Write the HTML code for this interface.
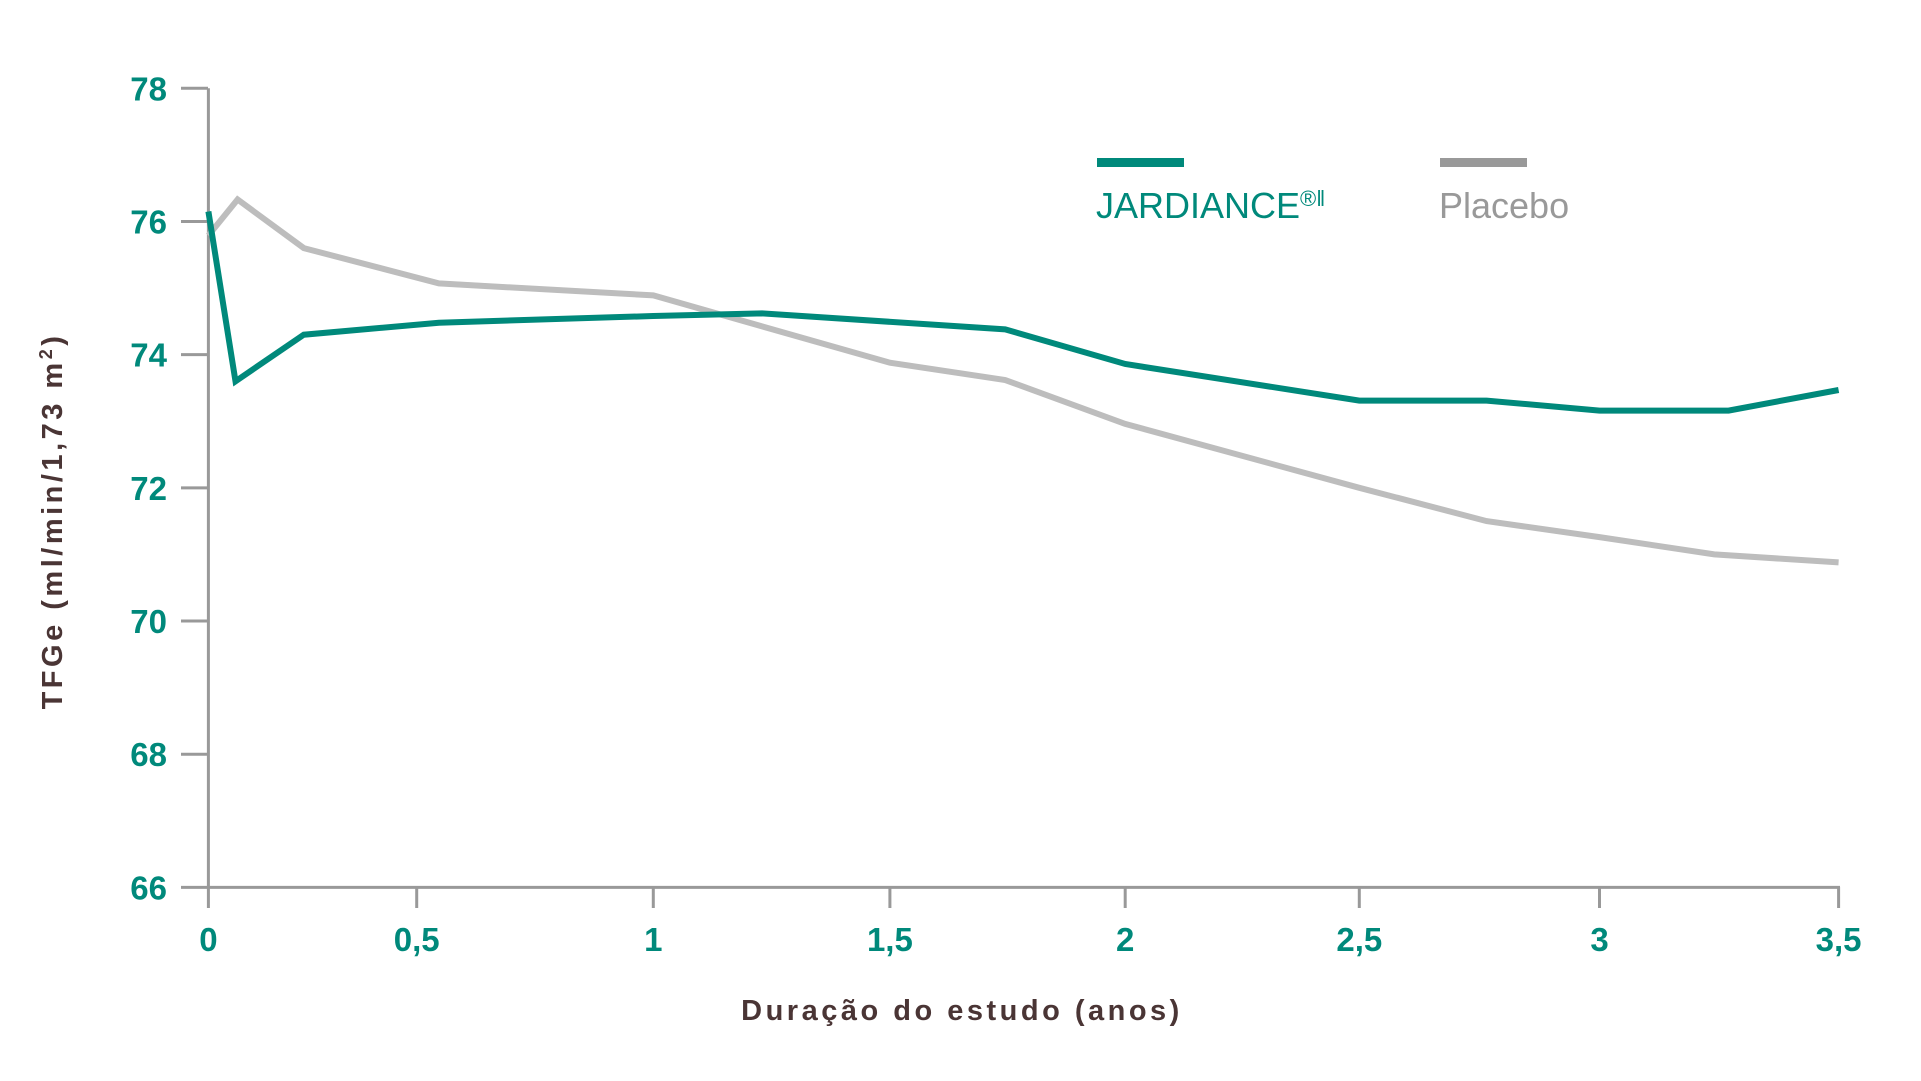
<!DOCTYPE html>
<html><head><meta charset="utf-8"><style>
html,body{margin:0;padding:0;background:#fff;}
svg{display:block;font-family:"Liberation Sans",sans-serif;}
</style></head><body>
<svg id="chart" width="1921" height="1081" viewBox="0 0 1921 1081">
<g id="axes"></g>
<g id="series"></g>
<g>
<rect x="1097" y="158" width="87" height="9" fill="#00897b"/>
<text x="1096" y="218" font-size="36" fill="#00897b">JARDIANCE<tspan font-size="22" dy="-12">®ǁ</tspan></text>
<rect x="1440" y="158" width="87" height="9" fill="#999"/>
<text x="1439" y="218" font-size="36" fill="#999">Placebo</text>
</g>
<text transform="translate(62,521) rotate(-90)" text-anchor="middle" font-size="29" font-weight="bold" letter-spacing="3.5" fill="#4a3535">TFGe (ml/min/1,73 m<tspan font-size="18" dy="-10">2</tspan><tspan dy="10">)</tspan></text>
<text x="962" y="1020" text-anchor="middle" font-size="29" font-weight="bold" letter-spacing="3.5" fill="#4a3535">Duração do estudo (anos)</text>
</svg>
<script>
const xTicks=[0,0.5,1,1.5,2,2.5,3,3.5];
const xTickLabels=["0","0,5","1","1,5","2","2,5","3","3,5"];
const yTicks=[66,68,70,72,74,76,78];
const jardX=[0,0.065,0.229,0.547,1,1.23,1.745,2,2.5,2.765,3,3.27,3.5];
const jardY=[76.15,73.6,74.3,74.48,74.58,74.62,74.38,73.86,73.31,73.31,73.16,73.16,73.47];
const placX=[0,0.07,0.229,0.547,1,1.5,1.745,2,2.5,2.765,3,3.24,3.5];
const placY=[75.79,76.33,75.6,75.07,74.89,73.88,73.62,72.96,72.0,71.5,71.26,71.0,70.88];

const NS="http://www.w3.org/2000/svg";
const xBreak=[0,0.5,1,1.5,2,2.5,3,3.5];
const xPix=[208.4,416.7,653.3,889.9,1125.2,1359.3,1599.5,1838.6];
function xs(v){
  for(let i=0;i<xBreak.length-1;i++){
    if(v<=xBreak[i+1]||i===xBreak.length-2){
      const t=(v-xBreak[i])/(xBreak[i+1]-xBreak[i]);
      return xPix[i]+t*(xPix[i+1]-xPix[i]);
    }
  }
}
function ys(v){return 887.4-(v-66)*(887.4-88.3)/12;}
function mk(tag,attrs,parent){const e=document.createElementNS(NS,tag);for(const k in attrs)e.setAttribute(k,attrs[k]);parent.appendChild(e);return e;}
const axes=document.getElementById('axes');
const ya=mk('line',{x1:208.4,y1:88.3,x2:208.4,y2:887.4,stroke:'#999','stroke-width':3},axes);


const xa=mk('line',{x1:207,y1:887.4,x2:1840,y2:887.4,stroke:'#999','stroke-width':3},axes);


yTicks.forEach(v=>{
  const t=mk('line',{x1:181,y1:ys(v),x2:208,y2:ys(v),stroke:'#999','stroke-width':3},axes);
  
  
  const l=mk('text',{x:167,y:ys(v)+12,'text-anchor':'end','font-size':33,'font-weight':'bold',fill:'#00897b'},axes);
  l.textContent=String(v);
  
  
});
xTicks.forEach((v,i)=>{
  const t=mk('line',{x1:xs(v),y1:887,x2:xs(v),y2:908,stroke:'#999','stroke-width':3},axes);
  
  
  const l=mk('text',{x:xs(v),y:951,'text-anchor':'middle','font-size':33,'font-weight':'bold',fill:'#00897b'},axes);
  l.textContent=xTickLabels[i];
  
  
});
const series=document.getElementById('series');
function line(xa,ya,color,name){
  const d=xa.map((x,i)=>(i?'L':'M')+xs(x).toFixed(1)+','+ys(ya[i]).toFixed(1)).join(' ');
  const p=mk('path',{d:d,fill:'none',stroke:color,'stroke-width':6,'stroke-linejoin':'miter'},series);
  
  
}
line(placX,placY,'#bdbdbd','placebo-line');
line(jardX,jardY,'#00897b','jardiance-line');
</script>
</body></html>
